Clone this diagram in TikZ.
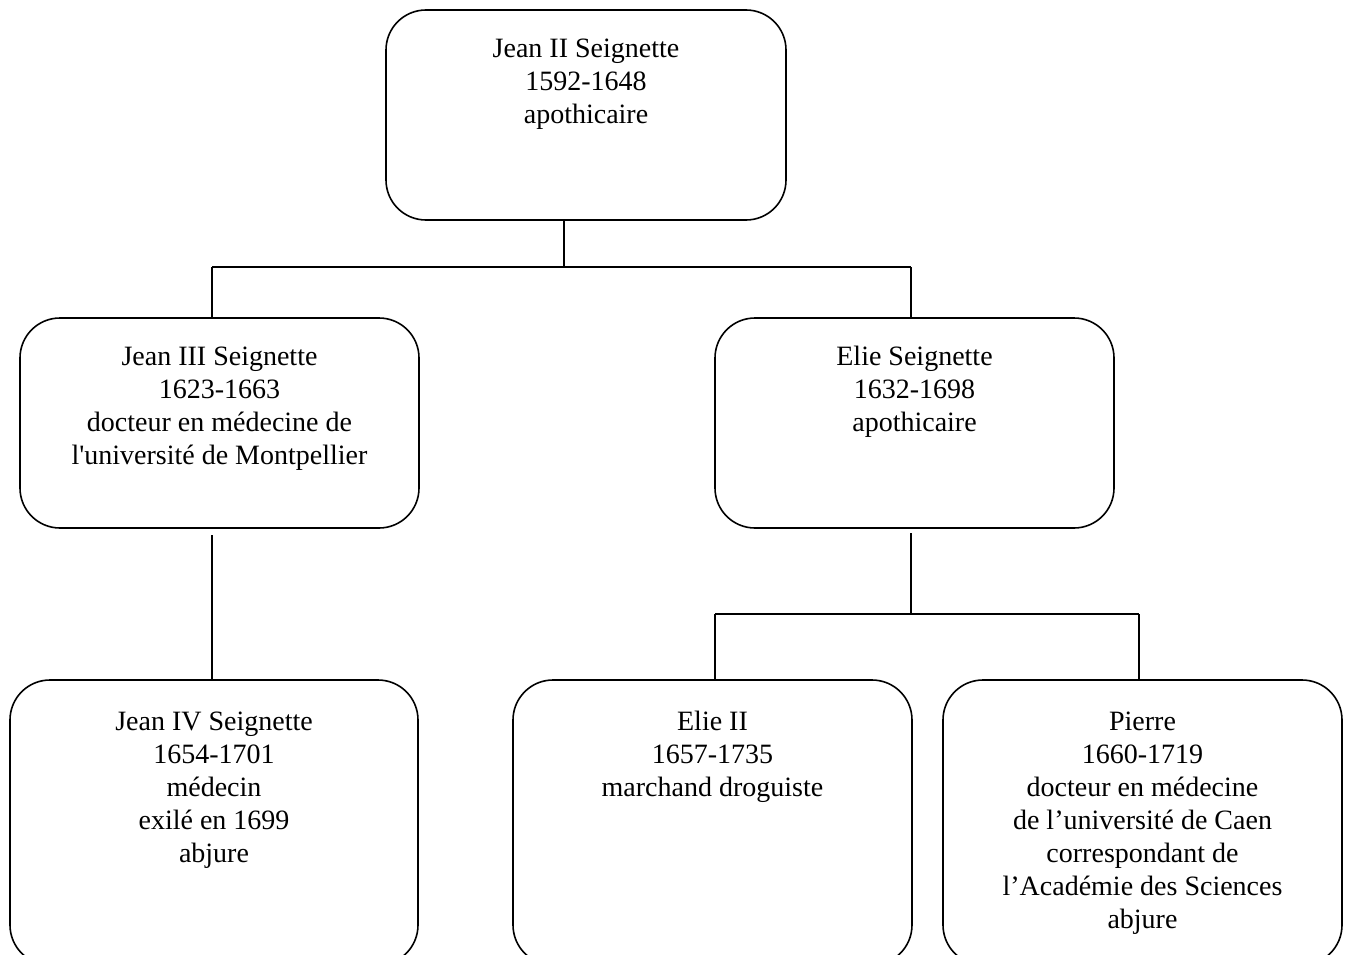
\documentclass[tikz,border=0pt]{standalone}
\usepackage{fontspec}
\setmainfont{Liberation Serif}
\begin{document}
\begin{tikzpicture}[x=1pt,y=-1pt,
  box/.style={draw, line width=1.6pt, rounded corners=40pt, minimum width=#1, minimum height=210pt, inner sep=0pt},
  txt/.style={align=center, inner sep=0pt, anchor=north, yshift=23.1pt, font=\fontsize{28}{33}\selectfont},
  link/.style={line width=1.6pt}]
\useasboundingbox (0,0) rectangle (1347,955);
% boxes
\node[box=400pt] (top) at (586,115) {};
\node[box=399pt] (jean3) at (219.5,423) {};
\node[box=399pt] (elie) at (914.5,423) {};
\node[box=408pt, minimum height=285pt] (jean4) at (214,822.5) {};
\node[box=399pt, minimum height=285pt] (elie2) at (712.5,822.5) {};
\node[box=399pt, minimum height=285pt] (pierre) at (1142.5,822.5) {};
% texts (first-line baselines)
\node[txt] (ttop) at (586,57) {\strut Jean II Seignette\\1592-1648\\apothicaire};
\node[txt] (tjean3) at (219.5,365) {\strut Jean III Seignette\\1623-1663\\docteur en médecine de\\l\textquotesingle université de Montpellier};
\node[txt] (telie) at (914.5,365) {\strut Elie Seignette\\1632-1698\\apothicaire};
\node[txt] (tjean4) at (214,730) {\strut Jean IV Seignette\\1654-1701\\médecin\\exilé en 1699\\abjure};
\node[txt] (telie2) at (712.5,730) {\strut Elie II\\1657-1735\\marchand droguiste};
\node[txt] (tpierre) at (1142.5,730) {\strut Pierre\\1660-1719\\docteur en médecine\\de l’université de Caen\\correspondant de\\l’Académie des Sciences\\abjure};
% connectors
\coordinate (b1) at (564,267);
\coordinate (l1) at (212,267);
\coordinate (r1) at (911,267);
\draw[link] (top.south -| b1) -- (b1);
\draw[link] (l1) -- (r1);
\draw[link] (l1) -- (l1 |- jean3.north);
\draw[link] (r1) -- (r1 |- elie.north);
\coordinate (l2) at (212,535);
\draw[link] (l2) -- (l2 |- jean4.north);
\coordinate (r2) at (911,533);
\coordinate (r3) at (911,614);
\coordinate (m1) at (715,614);
\coordinate (m2) at (1139,614);
\draw[link] (r2) -- (r3);
\draw[link] (m1) -- (m2);
\draw[link] (m1) -- (m1 |- elie2.north);
\draw[link] (m2) -- (m2 |- pierre.north);
\end{tikzpicture}
\end{document}
